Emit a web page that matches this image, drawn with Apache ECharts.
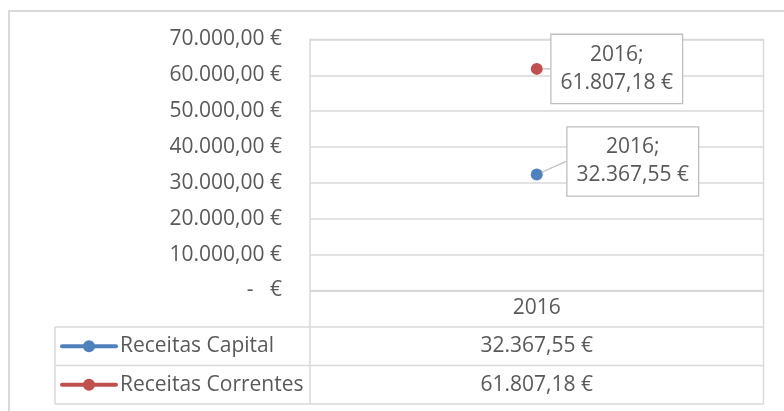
<!DOCTYPE html>
<html>
<head>
<meta charset="utf-8">
<script src="https://cdn.jsdelivr.net/npm/echarts@6/dist/echarts.min.js"></script>
<style>
  html, body { margin: 0; padding: 0; background: #fff; }
  #chart { width: 784px; height: 411px; }
</style>
</head>
<body>
<div id="chart"></div>
<script>
// data
var years = ['2016'];
var seriesNames = ['Receitas Capital', 'Receitas Correntes'];
var receitasCapital = [32367.55];
var receitasCorrentes = [61807.18];
var seriesColors = ['#4f81bd', '#c0504d'];
var yMin = 0, yMax = 70000, yStep = 10000;

// layout
var fontName = 'Open Sans';
var textColor = '#595959';
var lineColor = '#d9d9d9';
var plotLeft = 310, plotRight = 763.5, plotTop = 39.5, axisY = 290.5;
var tableLeft = 55, rowTop = 327, rowH = 38.5;

function fmtEuro(v) {
    if (v === 0) return '-   €';
    var parts = v.toFixed(2).split('.');
    var intPart = parts[0].replace(/\B(?=(\d{3})+(?!\d))/g, '.');
    return intPart + ',' + parts[1] + ' €';
}

var allValues = [receitasCapital, receitasCorrentes];

var chart = echarts.init(document.getElementById('chart'));

var graphics = [
    {
        type: 'rect',
        shape: { x: 9, y: 11, width: 900, height: 500 },
        style: { fill: 'none', stroke: lineColor, lineWidth: 2 },
        silent: true
    }
];

function hLine(x1, x2, y) {
    graphics.push({
        type: 'line',
        shape: { x1: x1, y1: y, x2: x2, y2: y },
        style: { stroke: lineColor, lineWidth: 1.5 },
        silent: true
    });
}
function vLine(x, y1, y2) {
    graphics.push({
        type: 'line',
        shape: { x1: x, y1: y1, x2: x, y2: y2 },
        style: { stroke: lineColor, lineWidth: 1.5 },
        silent: true
    });
}

var tableBottom = rowTop + rowH * seriesNames.length;
vLine(plotLeft, axisY, tableBottom);
vLine(plotRight, axisY, tableBottom);
vLine(tableLeft, rowTop, tableBottom);
for (var r = 0; r <= seriesNames.length; r++) {
    hLine(tableLeft, plotRight, rowTop + rowH * r);
}

var colW = (plotRight - plotLeft) / years.length;
seriesNames.forEach(function (name, i) {
    var cy = rowTop + rowH * i + rowH / 2;
    graphics.push({
        type: 'line',
        shape: { x1: 62, y1: cy, x2: 116, y2: cy },
        style: { stroke: seriesColors[i], lineWidth: 4, lineCap: 'round' },
        silent: true
    });
    graphics.push({
        type: 'circle',
        shape: { cx: 89, cy: cy, r: 6 },
        style: { fill: seriesColors[i] },
        silent: true
    });
    graphics.push({
        type: 'text',
        x: 120, y: cy,
        style: {
            text: name, fill: textColor, font: '21px "' + fontName + '"',
            verticalAlign: 'middle', align: 'left'
        },
        silent: true
    });
    allValues[i].forEach(function (v, j) {
        graphics.push({
            type: 'text',
            x: plotLeft + colW * (j + 0.5), y: cy,
            style: {
                text: fmtEuro(v), fill: textColor, font: '21px "' + fontName + '"',
                verticalAlign: 'middle', align: 'center'
            },
            silent: true
        });
    });
});

var labelOffsets = [[96, -13], [80, 0]];

var option = {
    animation: false,
    textStyle: { fontFamily: fontName },
    grid: {
        left: plotLeft, right: 784 - plotRight, top: plotTop, bottom: 411 - axisY,
        show: true, borderColor: lineColor, borderWidth: 1.5
    },
    xAxis: {
        type: 'category',
        data: years,
        boundaryGap: true,
        axisLine: { lineStyle: { color: lineColor, width: 1.5 } },
        axisTick: { show: false },
        axisLabel: { color: textColor, fontSize: 21, margin: 7, fontFamily: fontName }
    },
    yAxis: {
        type: 'value',
        min: yMin, max: yMax, interval: yStep,
        axisLine: { show: false },
        axisTick: { show: false },
        splitLine: { lineStyle: { color: lineColor, width: 1.5 } },
        axisLabel: {
            color: textColor, fontSize: 21, margin: 28, fontFamily: fontName,
            formatter: function (v) { return fmtEuro(v); }
        }
    },
    series: seriesNames.map(function (name, i) {
        return {
            name: name,
            type: 'line',
            data: allValues[i],
            symbol: 'circle',
            symbolSize: 12,
            itemStyle: { color: seriesColors[i] },
            lineStyle: { color: seriesColors[i], width: 4 },
            label: {
                show: true,
                position: 'inside',
                formatter: function (p) { return p.name + ';\n' + fmtEuro(p.value); },
                color: textColor,
                fontSize: 21,
                fontFamily: fontName,
                lineHeight: 28,
                align: 'center',
                backgroundColor: '#fff',
                borderColor: '#bfbfbf',
                borderWidth: 1.3,
                padding: [6, 9]
            },
            labelLayout: { dx: labelOffsets[i][0], dy: labelOffsets[i][1] },
            labelLine: { show: true, lineStyle: { color: '#bfbfbf', width: 1.3 } }
        };
    }),
    graphic: graphics
};

chart.setOption(option);
</script>
</body>
</html>
